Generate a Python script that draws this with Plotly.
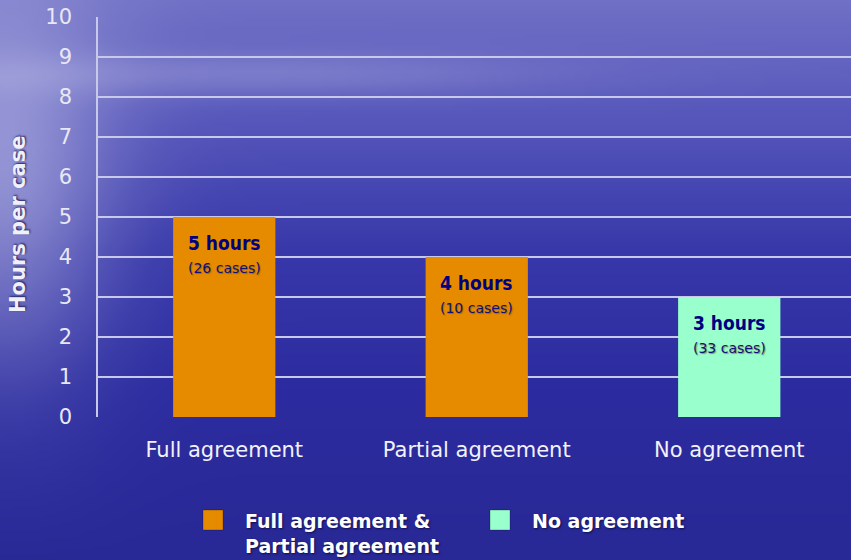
import base64, struct, zlib
import numpy as np
import plotly.graph_objects as go

categories = ["Full agreement", "Partial agreement", "No agreement"]
hours = [5, 4, 3]
cases = [26, 10, 33]
bar_colors = ["#E68A00", "#E68A00", "#99FFCC"]
legend_labels = ["Full agreement &<br>Partial agreement", "No agreement"]
legend_colors = ["#E68A00", "#99FFCC"]
y_ticks = list(range(0, 11))

FONT = "'DejaVu Sans', sans-serif"
FONT_C = "'DejaVu Sans Condensed', 'DejaVu Sans', sans-serif"
W, H = 851, 560
L, T, B = 98, 17, 143
PW, PH = W - L, H - T - B


def px2paper(px, py):
    return (px - L) / PW, (H - B - py) / PH


# ---- background image (gradient, generated) ----
def make_bg(w=213, h=140):
    ys = np.linspace(0, 1, h)[:, None]
    xs = np.linspace(0, 1, w)[None, :]
    stops_t = [0.0, 0.2, 0.45, 0.7, 1.0]
    cols = np.array([[112, 112, 198], [88, 88, 188], [56, 56, 170], [44, 44, 160], [40, 40, 150]], float)
    base = np.stack([np.interp(ys[:, 0], stops_t, cols[:, c]) for c in range(3)], axis=-1)
    img = np.repeat(base[:, None, :], w, axis=1)
    glow = np.exp(-(xs / 0.13) ** 2) * np.exp(-((ys - 0.3) / 0.35) ** 2) * 0.55
    band = np.exp(-((ys - 0.13) / 0.04) ** 2) * np.exp(-((xs - 0.3) / 0.35) ** 2) * 0.25
    light = np.array([205, 205, 238], float)
    a = np.clip(glow + band, 0, 0.8)[..., None]
    img = img * (1 - a) + light * a
    return np.clip(img, 0, 255).astype(np.uint8)


def to_png(arr):
    h, w, _ = arr.shape
    raw = b"".join(b"\x00" + arr[i].tobytes() for i in range(h))

    def chunk(tag, data):
        c = struct.pack(">I", len(data)) + tag + data
        return c + struct.pack(">I", zlib.crc32(tag + data) & 0xFFFFFFFF)

    return (b"\x89PNG\r\n\x1a\n" + chunk(b"IHDR", struct.pack(">IIBBBBB", w, h, 8, 2, 0, 0, 0))
            + chunk(b"IDAT", zlib.compress(raw, 9)) + chunk(b"IEND", b""))


bg_uri = "data:image/png;base64," + base64.b64encode(to_png(make_bg())).decode()

fig = go.Figure()
fig.add_trace(go.Bar(
    x=categories, y=hours, marker=dict(color=bar_colors, line=dict(width=0)),
    width=0.405, showlegend=False, hoverinfo="skip",
))

annotations = []
for c, h, n in zip(categories, hours, cases):
    annotations.append(dict(x=c, y=h - 0.65, xref="x", yref="y", text=f"<b>{h} hours</b>",
                            showarrow=False, font=dict(family=FONT_C, size=19, color="#000080")))
    annotations.append(dict(x=c, y=h - 1.27, xref="x", yref="y", text=f"({n} cases)",
                            showarrow=False,
                            font=dict(family=FONT, size=14, color="#10107a",
                                      shadow="1px 1px 1px rgba(120,80,0,0.6)")))

# y-axis title
tx, ty = px2paper(18, 225)
annotations.append(dict(x=tx, y=ty, xref="paper", yref="paper", text="<b>Hours per case</b>",
                        textangle=-90, showarrow=False, xanchor="center", yanchor="middle",
                        font=dict(family=FONT, size=21, color="#F0F0FA", shadow="1px 1px 2px #202060")))

shapes = []
legend_pos = [(203, 520), (490, 520)]
for (lx, ly), lab, col in zip(legend_pos, legend_labels, legend_colors):
    x0, y0 = px2paper(lx, ly + 10)
    x1, y1 = px2paper(lx + 20, ly - 10)
    shapes.append(dict(type="rect", xref="paper", yref="paper", x0=x0, y0=y0, x1=x1, y1=y1,
                       fillcolor=col, line=dict(color="rgba(0,0,0,0.25)", width=1), layer="above"))
    axx, ayy = px2paper(lx + 40, ly - 12)
    annotations.append(dict(x=axx, y=ayy, xref="paper", yref="paper", text=f"<b>{lab}</b>",
                            xanchor="left", yanchor="top", align="left", showarrow=False,
                            font=dict(family=FONT, size=19, color="#FFFFFF", shadow="1px 1px 2px #101050")))

fig.update_layout(
    width=W, height=H,
    margin=dict(l=L, r=0, t=T, b=B, pad=0),
    paper_bgcolor="#3a3aa8", plot_bgcolor="rgba(0,0,0,0)",
    images=[dict(source=bg_uri, xref="paper", yref="paper", x=-L / PW, y=(H - B) / PH,
                 sizex=W / PW, sizey=H / PH, xanchor="left", yanchor="top",
                 sizing="stretch", layer="below")],
    annotations=annotations, shapes=shapes,
    showlegend=False,
    xaxis=dict(range=[-0.5, -0.5 + PW / 252.5], showgrid=False, zeroline=False,
               ticks="outside", ticklen=14, tickcolor="rgba(0,0,0,0)",
               tickfont=dict(family=FONT, size=21, color="#F2F2FA"), fixedrange=True),
    yaxis=dict(range=[0, 10], tickvals=y_ticks, showgrid=True, gridcolor="#C8C8E8", gridwidth=1.5,
               zeroline=False, showline=True, linecolor="#C8C8E8", linewidth=1.5,
               ticks="outside", ticklen=20, tickcolor="rgba(0,0,0,0)",
               tickfont=dict(family=FONT, size=21, color="#E8E8F5"), fixedrange=True),
)

fig.write_html("out.html", config={"displayModeBar": False},
               post_script="document.body.style.margin='0px';document.body.style.overflow='hidden';")
